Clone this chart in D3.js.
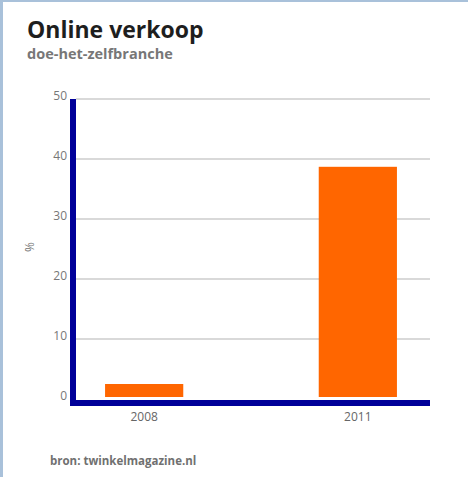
<!DOCTYPE html>
<html>
<head>
<meta charset="utf-8">
<script src="https://cdn.jsdelivr.net/npm/d3@7"></script>
<style>
  html, body { margin: 0; padding: 0; background: #fff; }
  svg { display: block; }
  text { font-family: "Open Sans", "Noto Sans", sans-serif; }
</style>
</head>
<body>
<svg id="chart" width="468" height="477"></svg>
<script>
// Online verkoop in de doe-het-zelfbranche (%)
const years = ["2008", "2011"];
const values = [2.5, 38.7];
const yTicks = [0, 10, 20, 30, 40, 50];

const svg = d3.select("#chart");
const W = 468, H = 477;

// frame strips along the top and left edges
svg.append("rect").attr("x", 0).attr("y", 0).attr("width", W).attr("height", H).attr("fill", "#fff");
svg.append("rect").attr("x", 0).attr("y", 0).attr("width", W).attr("height", 2).attr("fill", "#a9c1da");
svg.append("rect").attr("x", 0).attr("y", 0).attr("width", 3).attr("height", H).attr("fill", "#a9c1da");

// titles
svg.append("text").attr("x", 27).attr("y", 38)
  .attr("font-size", 23).attr("font-weight", 700).attr("fill", "#1e1e1e")
  .text("Online verkoop");
svg.append("text").attr("x", 27).attr("y", 59)
  .attr("font-size", 14.5).attr("font-weight", 700).attr("fill", "#777")
  .text("doe-het-zelfbranche");

// scales
const y = d3.scaleLinear().domain([0, 50]).range([399, 99]);
const x = d3.scaleBand().domain(years).range([76, 426])
  .paddingInner(0.634).paddingOuter(0.136);

// gridlines
svg.append("g")
  .selectAll("line")
  .data(yTicks.filter(t => t > 0))
  .join("line")
  .attr("x1", 76).attr("x2", 430)
  .attr("y1", d => y(d)).attr("y2", d => y(d))
  .attr("stroke", "#d9d9d9").attr("stroke-width", 2);

// y-axis labels
const yAxis = d3.axisLeft(y).tickValues(yTicks).tickSize(0).tickPadding(0);
const gy = svg.append("g").attr("transform", "translate(67,-3)").call(yAxis);
gy.select(".domain").remove();
gy.selectAll("text")
  .attr("font-size", 12).attr("fill", "#777")
  .attr("font-family", "'Open Sans', sans-serif");

// unit label
svg.append("text")
  .attr("transform", "translate(34,247) rotate(-90)")
  .attr("text-anchor", "middle")
  .attr("font-size", 12).attr("fill", "#777")
  .text("%");

// bars
svg.append("g")
  .selectAll("rect")
  .data(values)
  .join("rect")
  .attr("x", (d, i) => x(years[i]))
  .attr("width", x.bandwidth())
  .attr("y", d => y(d))
  .attr("height", d => y(0) - y(d) - 2)
  .attr("fill", "#ff6600");

// axis lines
svg.append("rect").attr("x", 70).attr("y", y(50)).attr("width", 6)
  .attr("height", 406 - y(50)).attr("fill", "#000099");
svg.append("rect").attr("x", 70).attr("y", 400).attr("width", 360)
  .attr("height", 6).attr("fill", "#000099");

// x-axis labels
const xAxis = d3.axisBottom(x).tickSize(0).tickPadding(0);
const gx = svg.append("g").attr("transform", "translate(0,412)").call(xAxis);
gx.select(".domain").remove();
gx.selectAll("text")
  .attr("font-size", 12).attr("fill", "#666")
  .attr("font-family", "'Open Sans', sans-serif");

// source
svg.append("text").attr("x", 50).attr("y", 465)
  .attr("font-size", 11.5).attr("font-weight", 700).attr("fill", "#707070")
  .text("bron: twinkelmagazine.nl");
</script>
</body>
</html>
